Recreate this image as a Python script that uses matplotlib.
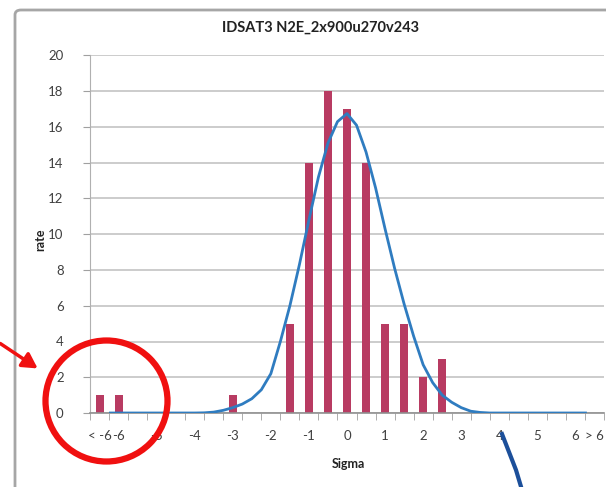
import matplotlib.pyplot as plt
import numpy as np
from matplotlib.patches import Ellipse, FancyArrowPatch, FancyBboxPatch
from matplotlib.lines import Line2D

# sigma bins: "< -6", -6 .. 6 in 0.5 steps, "> 6"
categories = ['< -6', '-6', '-5.5', '-5', '-4.5', '-4', '-3.5', '-3', '-2.5', '-2', '-1.5',
              '-1', '-0.5', '0', '0.5', '1', '1.5', '2', '2.5', '3', '3.5', '4', '4.5',
              '5', '5.5', '6', '> 6']
counts = [1, 1, 0, 0, 0, 0, 0, 1, 0, 0, 5, 14, 18, 17, 14, 5, 5, 2, 3, 0, 0, 0, 0, 0, 0, 0, 0]
tick_labels = ['< -6', '-6', '', '-5', '', '-4', '', '-3', '', '-2', '', '-1', '', '0', '',
               '1', '', '2', '', '3', '', '4', '', '5', '', '6', '> 6']

# fitted normal curve (sigma, rate)
fit_sigma = [-6.25, -5.5, -5.0, -4.5, -4.0, -3.75, -3.5, -3.25, -3.0, -2.75, -2.5, -2.25,
             -2.0, -1.75, -1.5, -1.25, -1.0, -0.75, -0.5, -0.25, 0.0, 0.25, 0.5, 0.75,
             1.0, 1.25, 1.5, 1.75, 2.0, 2.25, 2.5, 2.75, 3.0, 3.25, 3.5, 3.75, 4.0,
             4.5, 5.0, 5.5, 6.0, 6.3]
fit_rate = [0, 0, 0, 0, 0, 0.01, 0.05, 0.15, 0.3, 0.5, 0.8, 1.3,
            2.2, 4.0, 6.0, 8.3, 10.8, 13.2, 15.1, 16.3, 16.75, 16.1, 14.6, 12.6,
            10.3, 8.1, 6.1, 4.3, 2.7, 1.7, 1.0, 0.6, 0.3, 0.1, 0.03, 0.0, 0,
            0, 0, 0, 0, 0]

bar_color = '#b83b62'
line_color = '#2f7cc0'
text_color = '#404040'
plt.rcParams['font.family'] = ['Lato', 'DejaVu Sans']

fig = plt.figure(figsize=(6.06, 4.87), dpi=100)
W, H = 606, 487

def px(x, y):
    return (x / W, 1 - y / H)

# chart area frame
fig.add_artist(FancyBboxPatch(px(15, 500), 620 / W, 490 / H,
                              boxstyle='round,pad=0,rounding_size=0.01',
                              transform=fig.transFigure, fill=False,
                              edgecolor='#a6a6a6', linewidth=2))

ax = fig.add_axes([90 / W, 1 - 413 / H, 514 / W, 357.5 / H])
idx = np.arange(len(categories))
ax.bar(idx, counts, width=0.42, color=bar_color, zorder=2)

# curve lives on the same category scale: index = 13 + 2 * sigma
curve_x = [13 + 2 * s for s in fit_sigma]
ax.plot(curve_x, fit_rate, color=line_color, linewidth=2, zorder=3,
        solid_capstyle='butt', solid_joinstyle='round')

ax.set_xlim(-0.5, len(categories) - 0.5)
ax.set_ylim(0, 20)
ax.set_yticks(range(0, 21, 2))
ax.yaxis.grid(True, color='#c4c4c4', linewidth=1.2)
ax.set_axisbelow(True)
ax.set_xticks(idx)
ax.set_xticklabels(tick_labels)
ax.set_xticks(np.arange(-0.5, len(categories), 1), minor=True)
ax.tick_params(axis='x', which='major', length=0, pad=12, labelsize=9.5, labelcolor=text_color)
ax.tick_params(axis='x', which='minor', length=5, color='#a0a0a0', direction='out')
ax.tick_params(axis='y', length=5, color='#a0a0a0', labelsize=9.5, labelcolor=text_color, pad=14)
for side in ['top', 'right']:
    ax.spines[side].set_visible(False)
ax.spines['left'].set_color('#b0b0b0')
ax.spines['bottom'].set_color('#909090')
ax.spines['bottom'].set_linewidth(1.2)

fig.text(321 / W, 1 - 28 / H, 'IDSAT3 N2E_2x900u270v243', ha='center', va='center',
         fontsize=10.5, fontweight='bold', color='#222222')
fig.text(40 / W, 1 - 240 / H, 'rate', rotation=90, ha='center', va='center',
         fontsize=9, fontweight='bold', color='#222222')
fig.text(348 / W, 1 - 464 / H, 'Sigma', ha='center', va='center',
         fontsize=9, fontweight='bold', color='#222222')

# hand-drawn annotations on top of the chart
fig.add_artist(Ellipse(px(106.5, 401), 122 / W, 121 / H, transform=fig.transFigure,
                       fill=False, edgecolor='#f01010', linewidth=4.5))
fig.add_artist(FancyArrowPatch(px(-2, 342), px(40, 370), transform=fig.transFigure,
                               arrowstyle='-|>,head_length=9,head_width=5',
                               color='#f01010', linewidth=2.5))
fig.add_artist(Line2D([502 / W, 509 / W, 516 / W, 522 / W],
                      [1 - 434 / H, 1 - 452 / H, 1 - 470 / H, 1 - 490 / H],
                      transform=fig.transFigure, color='#1c4f9a', linewidth=3))

fig.savefig('out.png', dpi=100)
